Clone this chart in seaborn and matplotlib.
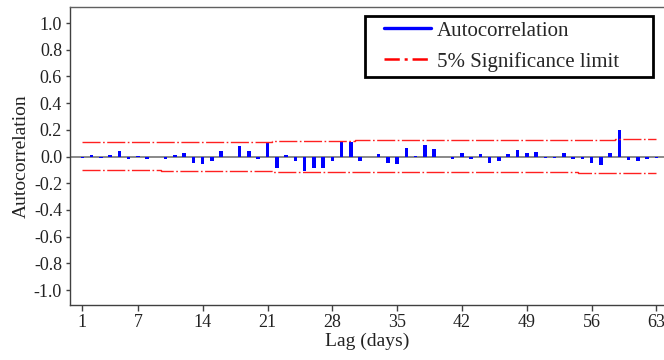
import matplotlib
matplotlib.use("Agg")
import matplotlib.pyplot as plt
import seaborn as sns
import numpy as np
import pandas as pd
from matplotlib.lines import Line2D
from matplotlib.legend_handler import HandlerLine2D

# ---- data ----
lags = list(range(1, 64))
acf = [-0.010, 0.015, -0.010, 0.010, 0.040, -0.015, 0.003, -0.020, 0.000, -0.015,
       0.010, 0.027, -0.045, -0.055, -0.035, 0.040, 0.000, 0.080, 0.040, -0.015,
       0.100, -0.085, 0.010, -0.030, -0.110, -0.085, -0.085, -0.030, 0.115, 0.110,
       -0.035, 0.000, 0.018, -0.047, -0.057, 0.067, 0.002, 0.086, 0.060, 0.000,
       -0.015, 0.030, -0.020, 0.022, -0.045, -0.035, 0.021, 0.050, 0.027, 0.037,
       -0.011, -0.011, 0.027, -0.015, -0.015, -0.045, -0.063, 0.030, 0.196, -0.028,
       -0.035, -0.022, -0.011]
upper_limit = [0.110] * 21 + [0.117] * 9 + [0.122] * 14 + [0.125] * 14 + [0.132] * 5
lower_limit = [-0.104] * 9 + [-0.110] * 12 + [-0.115] * 33 + [-0.120] * 4 + [-0.126] * 5
xticks = [1, 7, 14, 21, 28, 35, 42, 49, 56, 63]
yticks = [-1.0, -0.8, -0.6, -0.4, -0.2, 0.0, 0.2, 0.4, 0.6, 0.8, 1.0]
legend_labels = ["Autocorrelation", "5% Significance limit"]

df = pd.DataFrame({"lag": lags, "acf": acf, "upper": upper_limit, "lower": lower_limit})

sns.set_theme(style="white")
plt.rcParams["font.family"] = ["Liberation Serif", "DejaVu Serif"]
plt.rcParams["lines.scale_dashes"] = False

W, H = 664, 360
fig = plt.figure(figsize=(W / 100, H / 100), dpi=100)
ax = fig.add_axes([70 / W, 1 - 305 / H, 594 / W, 298 / H])

spine_col = "#404040"
ax.axhline(0, color="#808080", lw=1.3, zorder=1)

sns.barplot(data=df, x="lag", y="acf", native_scale=True, width=0.38,
            color="#0000ff", saturation=1, ax=ax, zorder=2, errorbar=None,
            linewidth=0)

dash = (0, (13, 1.8, 1.2, 1.8))
sns.lineplot(data=df, x="lag", y="upper", color="#ff2020", lw=1.0,
             linestyle=dash, drawstyle="steps-mid", ax=ax, zorder=3)
sns.lineplot(data=df, x="lag", y="lower", color="#ff2020", lw=1.0,
             linestyle=dash, drawstyle="steps-mid", ax=ax, zorder=3)

ax.set_xlim(-0.33, 63.82)
ax.set_ylim(-1.112, 1.12)
ax.set_xticks(xticks)
ax.set_xticklabels([str(t) for t in xticks])
ax.set_yticks(yticks)
ax.set_yticklabels([f"{t:.1f}" for t in yticks])

for s in ["left", "bottom", "top"]:
    ax.spines[s].set_visible(True)
    ax.spines[s].set_color(spine_col)
    ax.spines[s].set_linewidth(1.0)
ax.spines["top"].set_color("#606060")
ax.spines["right"].set_visible(False)

ax.tick_params(axis="both", direction="out", width=1, color=spine_col,
               labelsize=13, labelcolor="#222222")
ax.tick_params(axis="x", bottom=True, length=4.3, pad=2.5)
ax.tick_params(axis="y", left=True, length=3.2, pad=2.5)

ax.set_xlabel("Lag (days)", fontsize=14, color="#222222", labelpad=1)
ax.set_ylabel("Autocorrelation", fontsize=14, color="#222222", labelpad=3)

fs = 15
fs_px = fs * 100 / 72
bp = 0.25
bp_px = bp * fs_px
handles = [Line2D([], [], color="#0000ff", lw=2.4),
           Line2D([], [], color="#ff0000", lw=1.8, linestyle=(0, (11, 3.5, 2.2, 3.5)))]
hl = HandlerLine2D(xpad=(19 - bp_px) / fs_px)
leg = ax.legend(handles, legend_labels,
                loc="upper left",
                bbox_to_anchor=(365 / W, 1 - 72 / H, 288 / W, 56 / H),
                bbox_transform=fig.transFigure, borderaxespad=0, mode="expand",
                fontsize=fs, frameon=True, fancybox=False, framealpha=1,
                edgecolor="black", handlelength=(66 - bp_px) / fs_px,
                handletextpad=0.3, borderpad=bp, labelspacing=0.52,
                handler_map={Line2D: hl})
leg.get_frame().set_linewidth(2.0)
leg.set_zorder(5)

fig.savefig("out.png", dpi=100)
